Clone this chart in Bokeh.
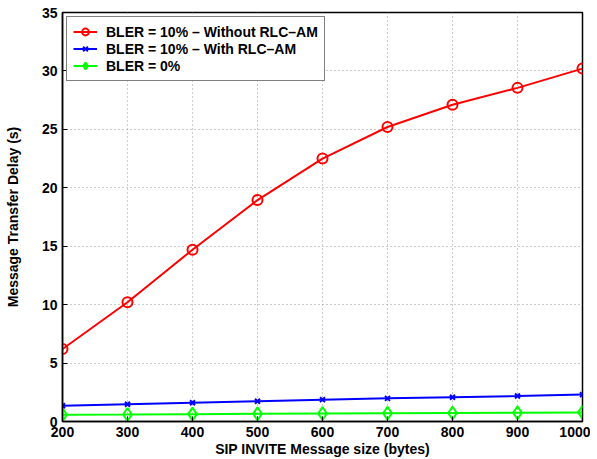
from bokeh.plotting import figure
from bokeh.models import FixedTicker, Range1d, Legend, LegendItem
from bokeh.embed import file_html
from bokeh.resources import INLINE

sizes = [200, 300, 400, 500, 600, 700, 800, 900, 1000]
bler10_no_am = [6.2, 10.2, 14.7, 18.95, 22.5, 25.2, 27.1, 28.55, 30.2]
bler10_am = [1.35, 1.48, 1.6, 1.73, 1.87, 1.98, 2.08, 2.18, 2.3]
bler0 = [0.58, 0.6, 0.63, 0.66, 0.69, 0.71, 0.73, 0.75, 0.78]

x_ticks = [200, 300, 400, 500, 600, 700, 800, 900, 1000]
y_ticks = [0, 5, 10, 15, 20, 25, 30, 35]

FONT = "Liberation Sans"

p = figure(width=590, height=459, output_backend="svg", toolbar_location=None,
           x_range=Range1d(200, 1000), y_range=Range1d(0, 35),
           min_border_left=62, min_border_right=8, min_border_top=12, min_border_bottom=38)

p.outline_line_color = "black"
p.outline_line_width = 1.5
p.outline_line_alpha = 1

for ax in (p.xaxis[0], p.yaxis[0]):
    ax.major_tick_in = 5
    ax.major_tick_out = 0
    ax.minor_tick_in = 0
    ax.minor_tick_out = 0
    ax.axis_line_color = "black"
    ax.axis_line_width = 1.5
    ax.major_tick_line_color = "black"
    ax.major_label_text_font = FONT
    ax.major_label_text_font_style = "bold"
    ax.major_label_text_font_size = "14px"
    ax.major_label_text_color = "black"
    ax.axis_label_text_font = FONT
    ax.axis_label_text_font_style = "bold"
    ax.axis_label_text_font_size = "14px"
    ax.axis_label_text_color = "black"

p.xaxis.major_label_standoff = 5
p.xaxis.axis_label_standoff = 1
p.yaxis.major_label_standoff = 5
p.yaxis.axis_label_standoff = 18

p.xaxis.ticker = FixedTicker(ticks=x_ticks)
p.yaxis.ticker = FixedTicker(ticks=y_ticks)
p.xaxis.axis_label = "SIP INVITE Message size (bytes)"
p.yaxis.axis_label = "Message Transfer Delay (s)"

p.xgrid.ticker = FixedTicker(ticks=x_ticks)
p.ygrid.ticker = FixedTicker(ticks=y_ticks)
for g in (p.xgrid[0], p.ygrid[0]):
    g.grid_line_color = "#999999"
    g.grid_line_dash = "1 3"
    g.grid_line_width = 1

r1 = p.line(sizes, bler10_no_am, color="#ff0000", line_width=2)
m1 = p.scatter(sizes, bler10_no_am, marker="circle", size=10, line_color="#ff0000",
               fill_color=None, line_width=2)
r2 = p.line(sizes, bler10_am, color="#0000ff", line_width=2)
m2 = p.scatter(sizes, bler10_am, marker="x", size=7, line_color="#0000ff", line_width=2)
r3 = p.line(sizes, bler0, color="#00ff00", line_width=2)
m3 = p.scatter(sizes, bler0, marker="diamond", size=13, line_color="#00ff00",
               fill_color=None, line_width=2)

legend = Legend(items=[
    LegendItem(label="BLER = 10% \u2013 Without RLC\u2013AM", renderers=[r1, m1]),
    LegendItem(label="BLER = 10% \u2013 With RLC\u2013AM", renderers=[r2, m2]),
    LegendItem(label="BLER = 0%", renderers=[r3, m3]),
], location="top_left")
legend.label_text_font = FONT
legend.label_text_font_style = "bold"
legend.label_text_font_size = "14px"
legend.label_text_color = "black"
legend.border_line_color = "black"
legend.border_line_width = 1.5
legend.background_fill_color = "white"
legend.background_fill_alpha = 1
legend.glyph_width = 24
legend.glyph_height = 17
legend.label_height = 17
legend.spacing = 0
legend.padding = 6
legend.margin = 4
legend.label_standoff = 9
p.add_layout(legend)

open("out.html", "w").write(file_html(p, INLINE))
